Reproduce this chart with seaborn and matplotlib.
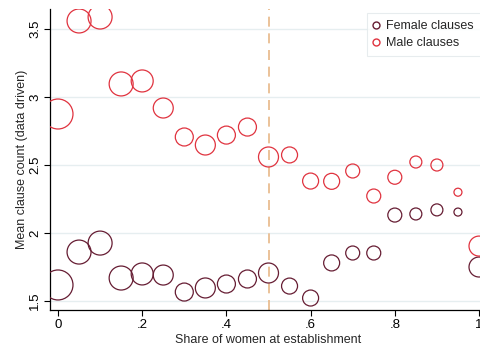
import numpy as np
import pandas as pd
import matplotlib
matplotlib.use("Agg")
import matplotlib.pyplot as plt
from matplotlib.lines import Line2D
import seaborn as sns

# Binned share of women at the establishment
share_bins = [0.00, 0.05, 0.10, 0.15, 0.20, 0.25, 0.30, 0.35, 0.40, 0.45, 0.50,
              0.55, 0.60, 0.65, 0.70, 0.75, 0.80, 0.85, 0.90, 0.95, 1.00]

# Mean clause counts per bin
female_clauses = [1.618, 1.860, 1.926, 1.669, 1.699, 1.691, 1.566, 1.596, 1.625, 1.662, 1.706,
                  1.610, 1.522, 1.780, 1.853, 1.853, 2.132, 2.140, 2.170, 2.154, 1.750]
male_clauses = [2.875, 3.559, 3.588, 3.096, 3.118, 2.919, 2.706, 2.647, 2.720, 2.779, 2.559,
                2.574, 2.382, 2.380, 2.456, 2.272, 2.410, 2.522, 2.500, 2.300, 1.904]

# Number of observations per bin (marker area weight)
bin_weight = [225, 144, 144, 144, 121, 100, 81, 100, 81, 81, 100,
              64, 64, 64, 49, 49, 49, 36, 36, 16, 100]

series_names = ["Female clauses", "Male clauses"]
female_color = "#661d33"
male_color = "#e0333f"

df = pd.concat([
    pd.DataFrame({"share": share_bins, "mean": female_clauses,
                  "weight": bin_weight, "series": series_names[0]}),
    pd.DataFrame({"share": share_bins, "mean": male_clauses,
                  "weight": bin_weight, "series": series_names[1]}),
], ignore_index=True)

sns.set_style("white")
plt.rcParams["font.family"] = ["Liberation Sans", "DejaVu Sans"]

fig = plt.figure(figsize=(4.8, 3.46), dpi=100)
ax = fig.add_axes([50 / 480, 1 - 310 / 346, 437 / 480, 301 / 346])

k = 2.07
wmin, wmax = min(bin_weight), max(bin_weight)
sns.scatterplot(
    data=df, x="share", y="mean", hue="series", size="weight",
    palette={series_names[0]: female_color, series_names[1]: male_color},
    sizes=(k * wmin, k * wmax), size_norm=(wmin, wmax),
    marker="o", linewidth=0.9, legend=False, ax=ax, zorder=3,
)
# hollow circles: move the hue colour onto the edges
for coll in ax.collections:
    fc = coll.get_facecolors()
    coll.set_edgecolors(fc)
    coll.set_facecolors("none")

ax.axvline(0.5, color="#e8b888", linestyle=(0, (6, 4)), linewidth=1.2, zorder=2)

ax.set_xlim(-0.019, 1.019)
ax.set_ylim(1.434, 3.647)
ax.set_xticks([0, 0.2, 0.4, 0.6, 0.8, 1.0])
ax.set_xticklabels(["0", ".2", ".4", ".6", ".8", "1"])
ax.set_yticks([1.5, 2, 2.5, 3, 3.5])
ax.set_yticklabels(["1.5", "2", "2.5", "3", "3.5"], rotation=90, va="center")

ax.grid(axis="y", color="#e6eef0", linewidth=1.0, zorder=0)
ax.grid(axis="x", visible=False)
ax.set_axisbelow(True)

for side in ["top", "right"]:
    ax.spines[side].set_visible(False)
for side in ["left", "bottom"]:
    ax.spines[side].set_color("black")
    ax.spines[side].set_linewidth(0.9)

ax.tick_params(axis="both", which="major", direction="out", length=4, width=0.8,
               color="black", labelsize=9.5, labelcolor="black", pad=2.5,
               left=True, bottom=True)

ax.set_xlabel("Share of women at establishment", fontsize=9, labelpad=2)
ax.set_ylabel("Mean clause count (data driven)", fontsize=9, labelpad=1)

handles = [
    Line2D([], [], marker="o", linestyle="none", markerfacecolor="none",
           markeredgecolor=female_color, markersize=5, markeredgewidth=1.0),
    Line2D([], [], marker="o", linestyle="none", markerfacecolor="none",
           markeredgecolor=male_color, markersize=5, markeredgewidth=1.0),
]
leg = fig.legend(handles, series_names, loc="upper left",
                 bbox_to_anchor=(367 / 480, 1 - 13 / 346), fontsize=9,
                 frameon=True, fancybox=False, handlelength=0.3,
                 handletextpad=0.67, borderpad=0.55, labelspacing=0.45,
                 borderaxespad=0)
leg.get_frame().set_edgecolor("#e2e8ea")
leg.get_frame().set_linewidth(0.8)

fig.savefig("out.png", dpi=100)
